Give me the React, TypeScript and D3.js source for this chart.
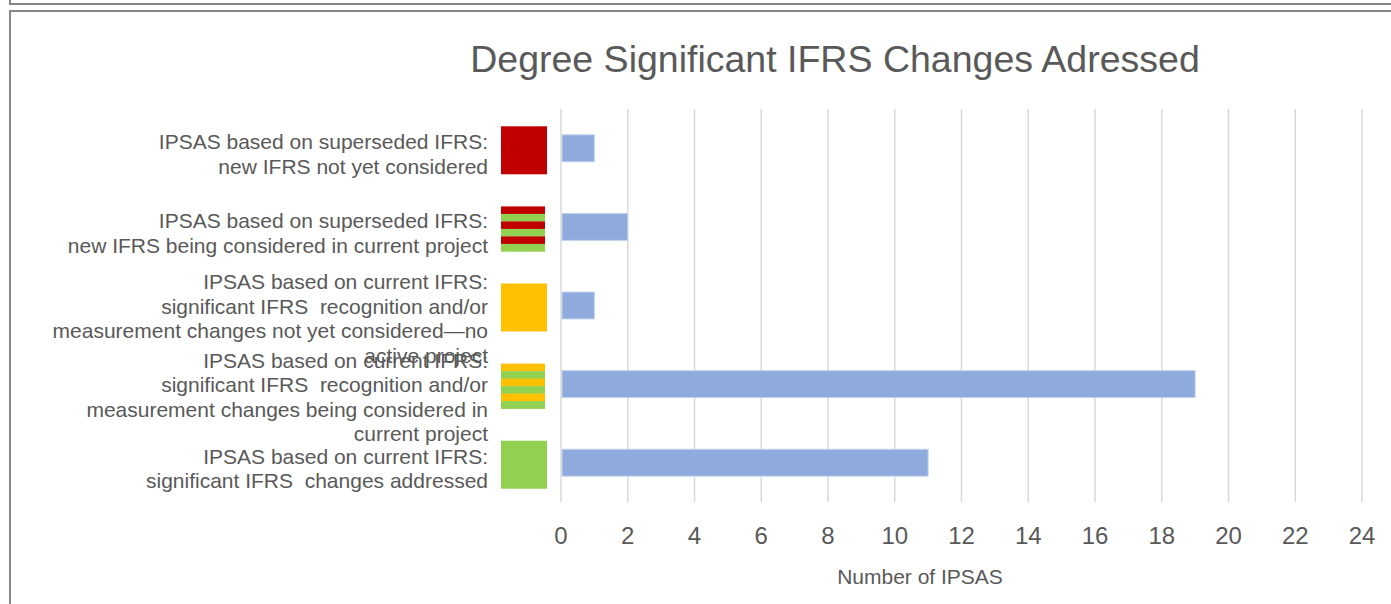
import React from "react";
import * as d3 from "d3";

const title = "Degree Significant IFRS Changes Adressed";
const axisTitle = "Number of IPSAS";

const categories = [
  "IPSAS based on superseded IFRS:\nnew IFRS not yet considered",
  "IPSAS based on superseded IFRS:\nnew IFRS being considered in current project",
  "IPSAS based on current IFRS:\nsignificant IFRS  recognition and/or\nmeasurement changes not yet considered\u2014no\nactive project",
  "IPSAS based on current IFRS:\nsignificant IFRS  recognition and/or\nmeasurement changes being considered in\ncurrent project",
  "IPSAS based on current IFRS:\nsignificant IFRS  changes addressed",
];
const values = [1, 2, 1, 19, 11];
const swatchColors = [
  ["#C00000"],
  ["#C00000", "#92D050"],
  ["#FFC000"],
  ["#FFC000", "#92D050"],
  ["#92D050"],
];
const xTicks = [0, 2, 4, 6, 8, 10, 12, 14, 16, 18, 20, 22, 24];

const W = 1391;
const H = 604;
const plot = { left: 561, right: 1362, top: 109, bottom: 502 };
const textColor = "#595959";
const gridColor = "#D9D9D9";
const barColor = "#8FAADC";
const frameColor = "#878787";
const font = "'Liberation Sans', Arial, sans-serif";

export default function App() {
  const x = d3.scaleLinear().domain([0, 24]).range([plot.left, plot.right]);
  const y = d3
    .scaleBand<number>()
    .domain(d3.range(categories.length))
    .range([plot.top, plot.bottom])
    .paddingInner(0.657)
    .paddingOuter(0.3285);
  const lineH = 24.5;

  return (
    <svg
      width={W}
      height={H}
      viewBox={`0 0 ${W} ${H}`}
      style={{ position: "absolute", left: 0, top: 0, background: "#fff" }}
    >
      <rect x={0} y={0} width={W} height={H} fill="#fff" />
      {/* frame */}
      <line x1={10} y1={0} x2={10} y2={5} stroke={frameColor} strokeWidth={2} />
      <line x1={9} y1={4} x2={W} y2={4} stroke={frameColor} strokeWidth={2} />
      <line x1={9} y1={11} x2={W} y2={11} stroke={frameColor} strokeWidth={2} />
      <line x1={10} y1={10} x2={10} y2={H} stroke={frameColor} strokeWidth={2} />

      {/* title */}
      <text
        x={835}
        y={72}
        textAnchor="middle"
        fontFamily={font}
        fontSize={37.5}
        fill={textColor}
      >
        {title}
      </text>

      {/* gridlines */}
      {xTicks.map((t) => (
        <line
          key={t}
          x1={x(t)}
          x2={x(t)}
          y1={plot.top}
          y2={plot.bottom}
          stroke={gridColor}
          strokeWidth={1.5}
        />
      ))}

      {/* bars */}
      {values.map((v, i) => (
        <rect
          key={i}
          x={x(0) + 1}
          y={y(i)!}
          width={x(v) - x(0) - 1}
          height={y.bandwidth()}
          fill={barColor}
          stroke="#C5D3EE"
          strokeWidth={1}
        />
      ))}

      {/* swatches */}
      {swatchColors.map((cols, i) => {
        const cy = y(i)! + y.bandwidth() / 2 + 2;
        if (cols.length === 1) {
          return (
            <rect
              key={i}
              x={501}
              y={cy - 24}
              width={46}
              height={48}
              fill={cols[0]}
            />
          );
        }
        const n = 6;
        const h = 45;
        return (
          <g key={i}>
            {d3.range(n).map((k) => (
              <rect
                key={k}
                x={501}
                y={cy - h / 2 + (k * h) / n}
                width={44}
                height={h / n + 0.3}
                fill={cols[k % 2]}
              />
            ))}
          </g>
        );
      })}

      {/* category labels */}
      {categories.map((c, i) => {
        const lines = c.split("\n");
        const center = y(i)! + y.bandwidth() / 2 + (lines.length > 2 ? 13 : 6);
        const startY = center - ((lines.length - 1) * lineH) / 2;
        return (
          <text
            key={i}
            textAnchor="end"
            fontFamily={font}
            fontSize={21}
            fill={textColor}
            style={{ whiteSpace: "pre" }}
          >
            {lines.map((l, k) => (
              <tspan key={k} x={488} y={startY + k * lineH} dy="0.35em">
                {l}
              </tspan>
            ))}
          </text>
        );
      })}

      {/* x tick labels */}
      {xTicks.map((t) => (
        <text
          key={t}
          x={x(t)}
          y={535}
          dy="0.36em"
          textAnchor="middle"
          fontFamily={font}
          fontSize={24}
          fill={textColor}
        >
          {t}
        </text>
      ))}

      {/* axis title */}
      <text
        x={920}
        y={577}
        dy="0.35em"
        textAnchor="middle"
        fontFamily={font}
        fontSize={21}
        fill={textColor}
      >
        {axisTitle}
      </text>
    </svg>
  );
}
